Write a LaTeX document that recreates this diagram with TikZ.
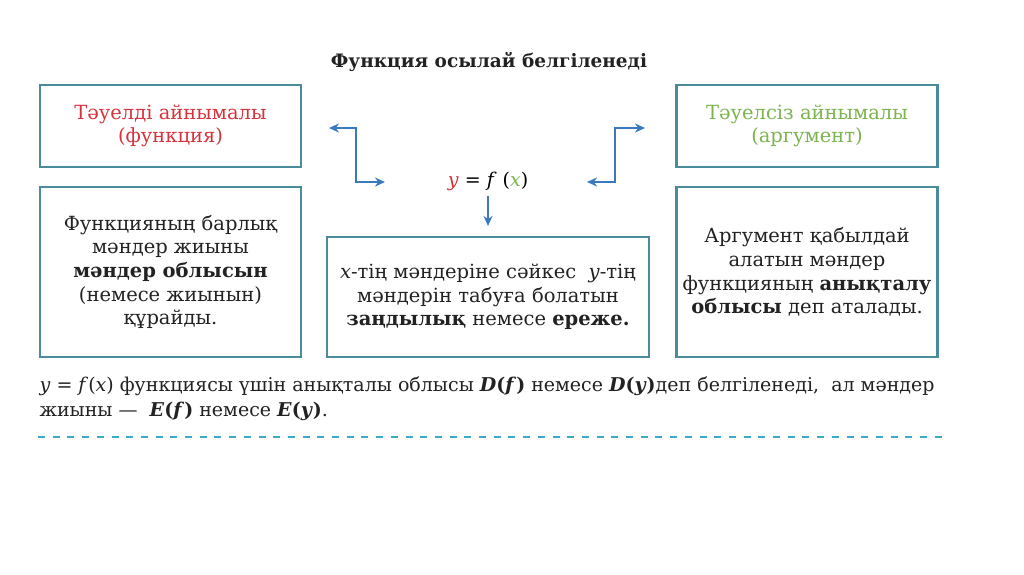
\documentclass[tikz,border=0pt]{standalone}
\usepackage{fontspec}
\setmainfont{DejaVu Serif}
\usetikzlibrary{arrows.meta}
\definecolor{boxline}{HTML}{4A8C9C}
\definecolor{arrowblue}{HTML}{3A78C0}
\definecolor{depred}{HTML}{D8323C}
\definecolor{indgreen}{HTML}{7CB450}
\definecolor{dashcyan}{HTML}{3AAAC8}
\definecolor{inktext}{HTML}{222222}

\begin{document}
\begin{tikzpicture}[x=1pt,y=-1pt,
  box/.style={draw=boxline,line width=2.2pt,minimum width=261pt,minimum height=82pt,
    align=center,inner sep=0pt,text=inktext,font=\fontsize{19.5}{23.7}\selectfont},
  link/.style={arrowblue,line width=2.2pt,>={Stealth[length=10pt,width=9pt]}}]
\useasboundingbox[fill=white] (0,0) rectangle (1024,574);
\node[text=inktext,font=\fontsize{18.5}{20}\selectfont\bfseries] (title) at (489,62) {Функция осылай белгіленеді};
\node[box,text=depred] (dep) at (170.5,126) {Тәуелді айнымалы\\(функция)};
\node[box,text=indgreen] (indep) at (807,126) {Тәуелсіз айнымалы\\(аргумент)};
\node[box,minimum height=170pt] (range) at (170.5,272) {Функцияның барлық\\мәндер жиыны\\\textbf{мәндер облысын}\\(немесе жиынын)\\құрайды.};
\node[box,minimum width=322pt,minimum height=120pt] (rule) at (488,297) {\textit{x}-тің мәндеріне сәйкес \ \textit{y}-тің\\мәндерін табуға болатын\\\textbf{заңдылық} немесе \textbf{ереже.}};
\node[box,minimum height=170pt] (domain) at (807,272) {Аргумент қабылдай\\алатын мәндер\\функцияның \textbf{анықталу}\\\textbf{облысы} деп аталады.};
\node[font=\fontsize{19}{22}\selectfont] (fx) at (488,181) {\textcolor{depred}{\textit{y}} = \textit{f} (\textcolor{indgreen}{\textit{x}})};
\coordinate (la) at (329,128);
\coordinate (lb) at (385,182);
\coordinate (ra) at (645,128);
\coordinate (rb) at (587,182);
\draw[link,<->] (la) -- ++(27,0) |- (lb);
\draw[link,<->] (ra) -- ++(-30,0) |- (rb);
\draw[link,->] ([yshift=-2pt]fx.south) -- ([yshift=10pt]rule.north);
\node[anchor=base west,align=left,text=inktext,font=\fontsize{19}{25}\selectfont] (note) at (36,416)
  {\textit{y} = \textit{f}(\textit{x}) функциясы үшін анықталы облысы \textbf{\textit{D}(\textit{f})} немесе \textbf{\textit{D}(\textit{y})}деп белгіленеді, \ ал мәндер\\
   жиыны — \ \textbf{\textit{E}(\textit{f})} немесе \textbf{\textit{E}(\textit{y})}.};
\draw[dashcyan,line width=2pt,dash pattern=on 7pt off 7.7pt] (38,437) -- (945,437);
\end{tikzpicture}
\end{document}
